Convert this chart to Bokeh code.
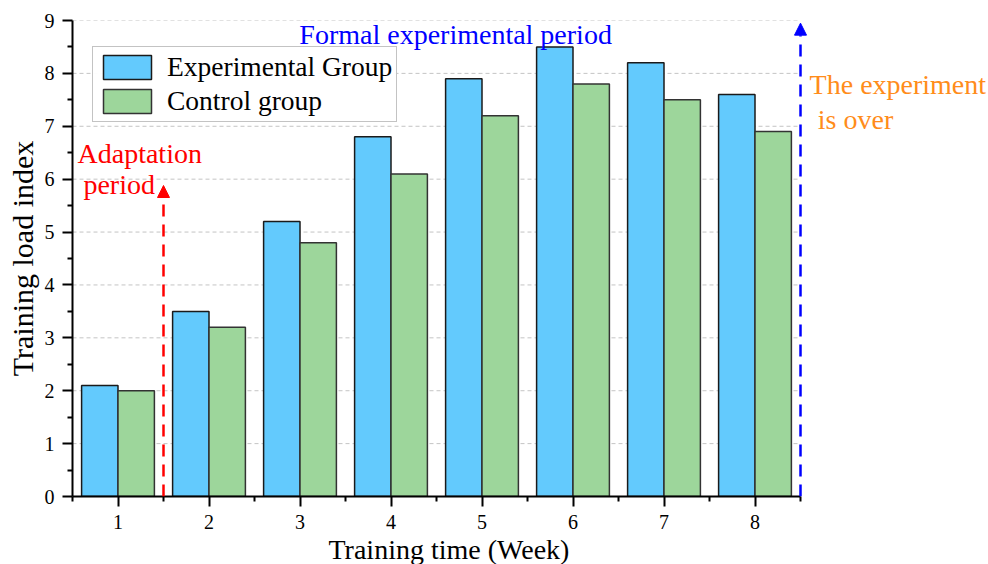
from bokeh.plotting import figure
from bokeh.models import (ColumnDataSource, FixedTicker, Label, Arrow, NormalHead,
                          Legend, LegendItem, Range1d, Title)
from bokeh.embed import file_html
from bokeh.resources import INLINE

weeks = [1, 2, 3, 4, 5, 6, 7, 8]
experimental = [2.1, 3.5, 5.2, 6.8, 7.9, 8.5, 8.2, 7.6]
control = [2.0, 3.2, 4.8, 6.1, 7.2, 7.8, 7.5, 6.9]
series_names = ["Experimental Group", "Control group"]
y_ticks = [0, 1, 2, 3, 4, 5, 6, 7, 8, 9]

FONT = "Liberation Serif"
X_MIN, X_MAX = 0.5, 8.5
PX_PER_UNIT = 91.0
FRAME_W = 916
x_end = X_MIN + FRAME_W / PX_PER_UNIT

p = figure(output_backend="svg", toolbar_location=None,
           x_range=Range1d(X_MIN, x_end), y_range=Range1d(0, 9),
           frame_width=FRAME_W, frame_height=476,
           min_border_left=72, min_border_top=20, min_border_right=0, min_border_bottom=0)
p.outline_line_color = None
p.background_fill_color = "white"

# grid lines (only within data extent)
grid_y = y_ticks[1:]
p.segment(x0=[X_MIN] * len(grid_y), x1=[X_MAX] * len(grid_y), y0=grid_y, y1=grid_y,
          line_color="#c4c4c4", line_dash="4 3", line_width=1)

src = ColumnDataSource(dict(
    xe=[w - 0.2 for w in weeks], xc=[w + 0.2 for w in weeks],
    exp=experimental, ctl=control))

r1 = p.vbar(x="xe", top="exp", width=0.4, source=src, fill_color="#63CAFD",
            line_color="#1a1a1a", line_width=1.5)
r2 = p.vbar(x="xc", top="ctl", width=0.4, source=src, fill_color="#9DD69B",
            line_color="#333333", line_width=1.5)

# axes
p.xaxis.ticker = FixedTicker(ticks=weeks, minor_ticks=[w + 0.5 for w in [0] + weeks])
p.yaxis.ticker = FixedTicker(ticks=y_ticks, minor_ticks=[t + 0.5 for t in y_ticks[:-1]])
p.xaxis.bounds = (X_MIN, X_MAX)
for ax in (p.xaxis[0], p.yaxis[0]):
    ax.axis_line_width = 2
    ax.axis_line_color = "black"
    ax.major_tick_line_width = 2
    ax.minor_tick_line_width = 2
    ax.major_tick_out = 10
    ax.major_tick_in = 0
    ax.minor_tick_out = 5
    ax.minor_tick_in = 0
    ax.major_label_text_font = FONT
    ax.major_label_text_font_size = "20px"
    ax.major_label_text_color = "black"
    ax.axis_label_text_font = FONT
    ax.axis_label_text_font_style = "normal"
    ax.axis_label_text_color = "black"
p.yaxis.axis_label = "Training load index"
p.yaxis.axis_label_text_font_size = "30px"
p.xaxis.major_label_standoff = 8
p.yaxis.major_label_standoff = 8
p.yaxis.axis_label_standoff = 3

# x-axis title centred under the data part of the axis
xt = Title(text="Training time (Week)", align="left", offset=256,
           text_font=FONT, text_font_size="28px", text_font_style="normal",
           text_color="black", standoff=0)
p.add_layout(xt, "below")

p.xgrid.grid_line_color = None
p.ygrid.grid_line_color = None

# arrows
p.add_layout(Arrow(end=NormalHead(size=12, fill_color="red", line_color="red"),
                   x_start=1.5, y_start=0, x_end=1.5, y_end=5.88,
                   line_color="red", line_width=2.5, line_dash="12 8"))
p.add_layout(Arrow(end=NormalHead(size=12, fill_color="blue", line_color="blue"),
                   x_start=8.5, y_start=0, x_end=8.5, y_end=8.95,
                   line_color="blue", line_width=2.5, line_dash="12 8"))

def lab(x, y, text, color, align="left"):
    p.add_layout(Label(x=x, y=y, text=text, text_color=color, text_font=FONT,
                       text_font_size="28px", text_align=align, text_baseline="middle"))

lab(4.71, 8.73, "Formal experimental period", "blue", "center")
lab(0.555, 6.48, "Adaptation", "red")
lab(0.62, 5.90, "period", "red")
lab(8.60, 7.79, "The experiment", "#FF8C1A")
lab(8.69, 7.13, "is over", "#FF8C1A")

legend = Legend(items=[LegendItem(label=series_names[0], renderers=[r1]),
                       LegendItem(label=series_names[1], renderers=[r2])],
                location=(20, 374))
legend.label_text_font = FONT
legend.label_text_font_size = "27.5px"
legend.label_text_color = "black"
legend.glyph_width = 60
legend.glyph_height = 30
legend.label_height = 28
legend.spacing = 2
legend.padding = 4
legend.margin = 0
legend.border_line_color = "#888888"
legend.border_line_width = 1.5
legend.label_standoff = 10
p.add_layout(legend, "center")

open("out.html", "w").write(file_html(p, INLINE))
